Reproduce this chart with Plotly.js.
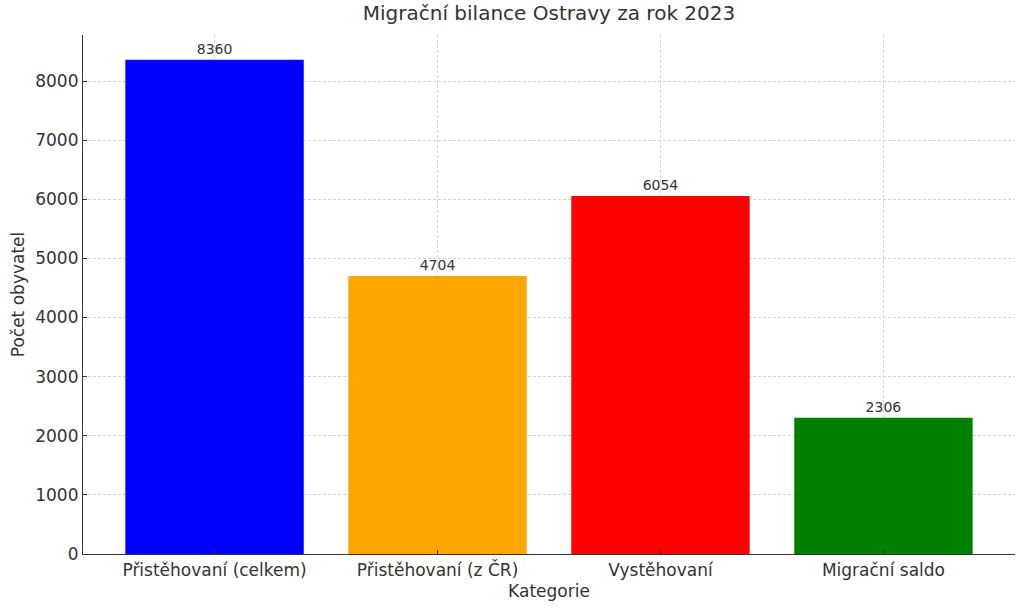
<!DOCTYPE html>
<html>
<head>
<meta charset="utf-8">
<script src="https://cdn.plot.ly/plotly-3.0.1.min.js"></script>
<style>
  body { margin: 0; background: #fff; }
  #plot { width: 1024px; height: 611px; }
</style>
</head>
<body>
<div id="plot"></div>
<script>
// data
const kategorie = ['Přistěhovaní (celkem)', 'Přistěhovaní (z ČR)', 'Vystěhovaní', 'Migrační saldo'];
const pocty = [8360, 4704, 6054, 2306];
const barvy = ['blue', 'orange', 'red', 'green'];

const fontFam = 'DejaVu Sans, sans-serif';

var trace = {
    type: 'bar',
    x: kategorie,
    y: pocty,
    width: 0.8,
    marker: {color: barvy, line: {width: 0}},
    text: pocty.map(String),
    textposition: 'outside',
    cliponaxis: false,
    textfont: {family: fontFam, size: 14, color: '#333'},
    hoverinfo: 'x+y'
};

var layout = {
    width: 1024,
    height: 611,
    margin: {l: 83, r: 9, t: 35, b: 57},
    paper_bgcolor: '#fff',
    plot_bgcolor: '#fff',
    font: {family: fontFam, color: '#333', size: 17},
    title: {
        text: 'Migrační bilance Ostravy za rok 2023',
        font: {family: fontFam, size: 20, color: '#333'},
        xref: 'paper', x: 0.5, xanchor: 'center', y: 0.99, yanchor: 'top'
    },
    xaxis: {
        title: {text: 'Kategorie', font: {size: 17}, standoff: 6},
        range: [-0.59, 3.59],
        showline: true, linecolor: '#333', linewidth: 1.2,
        ticks: 'inside', ticklen: 4, tickcolor: '#333',
        showgrid: true, gridcolor: '#d3d3d3', griddash: '3px,2px', gridwidth: 0.8,
        tickfont: {size: 17},
        layer: 'above traces'
    },
    yaxis: {
        title: {text: 'Počet obyvatel', font: {size: 17}, standoff: 6},
        range: [0, 8778],
        dtick: 1000,
        showline: true, linecolor: '#333', linewidth: 1.2,
        ticks: 'inside', ticklen: 4, tickcolor: '#333',
        showgrid: true, gridcolor: '#d3d3d3', griddash: '3px,2px', gridwidth: 0.8,
        zeroline: false,
        tickfont: {size: 17},
        layer: 'above traces'
    },
    showlegend: false,
    bargap: 0.2
};

Plotly.newPlot('plot', [trace], layout, {displayModeBar: false});
</script>
</body>
</html>
